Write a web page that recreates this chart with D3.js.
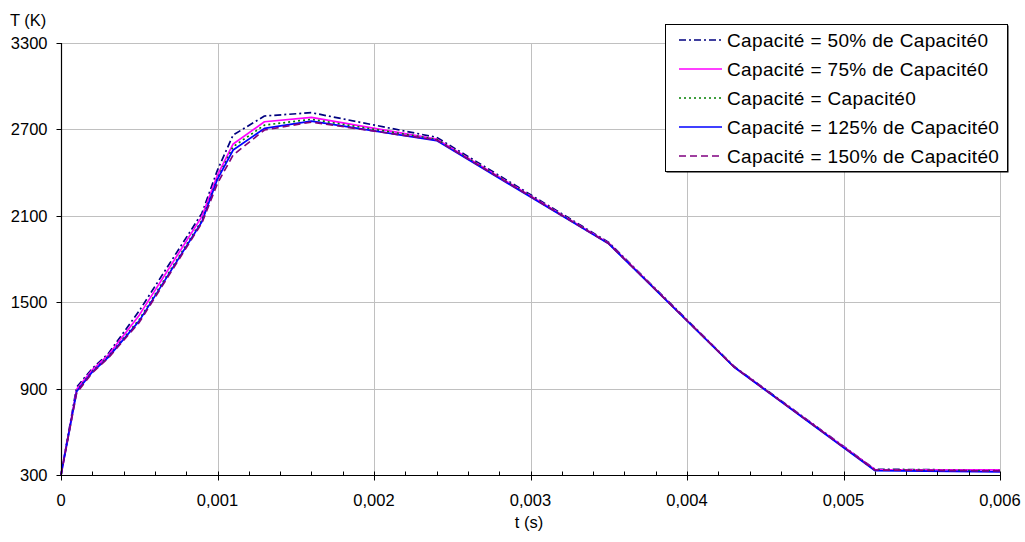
<!DOCTYPE html>
<html>
<head>
<meta charset="utf-8">
<script src="https://cdn.jsdelivr.net/npm/d3@7"></script>
<style>
  html, body { margin: 0; padding: 0; background: #fff; }
  svg { display: block; font-family: "Liberation Sans", Arial, sans-serif; }
</style>
</head>
<body>
<svg id="chart" width="1025" height="542"></svg>
<script>
// ---- data ----
const times = [0, 0.0001, 0.0002, 0.0003, 0.0005, 0.0009, 0.001, 0.0011, 0.0013, 0.0016, 0.0024, 0.0035, 0.0043, 0.0052, 0.006];
const cap50  = [300, 910, 1040, 1140, 1440, 2117, 2418, 2661, 2793, 2816, 2645, 1915, 1055, 340, 333];
const cap75  = [300, 895, 1030, 1130, 1410, 2094, 2383, 2599, 2753, 2784, 2633, 1910, 1052, 338, 335];
const cap100 = [300, 885, 1020, 1120, 1380, 2068, 2360, 2580, 2730, 2770, 2631, 1908, 1052, 335, 330];
const cap125 = [300, 880, 1015, 1115, 1370, 2059, 2355, 2557, 2707, 2758, 2622, 1905, 1050, 330, 322];
const cap150 = [300, 870, 1010, 1110, 1360, 2050, 2326, 2522, 2696, 2751, 2626, 1907, 1051, 335, 328];
const seriesNames = [
  "Capacité = 50% de Capacité0",
  "Capacité = 75% de Capacité0",
  "Capacité = Capacité0",
  "Capacité = 125% de Capacité0",
  "Capacité = 150% de Capacité0"
];
const xTicks = [0, 0.001, 0.002, 0.003, 0.004, 0.005, 0.006];
const xTickLabels = ["0", "0,001", "0,002", "0,003", "0,004", "0,005", "0,006"];
const yTicks = [300, 900, 1500, 2100, 2700, 3300];
const yTickLabels = ["300", "900", "1500", "2100", "2700", "3300"];
const xTitle = "t (s)";
const yTitle = "T (K)";

// ---- styles ----
const seriesValues = [cap50, cap75, cap100, cap125, cap150];
const colors = ["#000080", "#FF00FF", "#008000", "#0000FF", "#800080"];
const dashes = ["7,3,2,3", null, "2,3", null, "7,4"];

const svg = d3.select("#chart");
const x = d3.scaleLinear().domain([0, 0.006]).range([61, 1000]);
const y = d3.scaleLinear().domain([300, 3300]).range([475, 43]);

// gridlines
const grid = svg.append("g");
grid.selectAll("line.h").data(yTicks.filter(d => d !== 300)).enter().append("line")
  .attr("x1", x(0)).attr("x2", x(0.006))
  .attr("y1", d => Math.round(y(d)) + 0.5).attr("y2", d => Math.round(y(d)) + 0.5)
  .attr("stroke", "#c0c0c0").attr("stroke-width", 1);
grid.selectAll("line.v").data(xTicks.filter(d => d !== 0)).enter().append("line")
  .attr("x1", d => Math.round(x(d)) + 0.5).attr("x2", d => Math.round(x(d)) + 0.5)
  .attr("y1", y(3300)).attr("y2", y(300))
  .attr("stroke", "#c0c0c0").attr("stroke-width", 1);

// series lines
const line = d3.line().x((d, i) => x(times[i])).y(d => y(d));
seriesValues.forEach((vals, k) => {
  svg.append("path")
    .datum(vals)
    .attr("d", line)
    .attr("fill", "none")
    .attr("stroke", colors[k])
    .attr("stroke-width", 1.7)
    .attr("stroke-linejoin", "round")
    .attr("stroke-dasharray", dashes[k]);
});

// axes
const xAxisG = svg.append("g").attr("transform", `translate(0,${Math.round(y(300)) + 0.5})`);
xAxisG.append("line").attr("x1", x(0)).attr("x2", x(0.006)).attr("stroke", "#000").attr("stroke-width", 1.2);
const minorX = d3.range(0, 31).map(i => i * 0.0002).filter(v => Math.abs(v / 0.001 - Math.round(v / 0.001)) > 1e-6);
xAxisG.selectAll("line.minor").data(minorX).enter().append("line")
  .attr("x1", d => Math.round(x(d)) + 0.5).attr("x2", d => Math.round(x(d)) + 0.5)
  .attr("y1", -4).attr("y2", 0).attr("stroke", "#000");
xAxisG.selectAll("line.major").data(xTicks).enter().append("line")
  .attr("x1", d => Math.round(x(d)) + 0.5).attr("x2", d => Math.round(x(d)) + 0.5)
  .attr("y1", -4).attr("y2", 5).attr("stroke", "#000");
xAxisG.selectAll("text").data(xTicks).enter().append("text")
  .attr("x", d => x(d)).attr("y", 30)
  .attr("text-anchor", "middle").attr("font-size", 16.5).attr("fill", "#000")
  .text((d, i) => xTickLabels[i]);

const yAxisG = svg.append("g").attr("transform", `translate(${Math.round(x(0)) + 0.5},0)`);
yAxisG.append("line").attr("y1", y(3300)).attr("y2", y(300)).attr("stroke", "#000").attr("stroke-width", 1.2);
yAxisG.selectAll("line.major").data(yTicks).enter().append("line")
  .attr("y1", d => Math.round(y(d)) + 0.5).attr("y2", d => Math.round(y(d)) + 0.5)
  .attr("x1", -5).attr("x2", 0).attr("stroke", "#000");
yAxisG.selectAll("text").data(yTicks).enter().append("text")
  .attr("x", -14).attr("y", d => y(d) + 6)
  .attr("text-anchor", "end").attr("font-size", 16.5).attr("fill", "#000")
  .text((d, i) => yTickLabels[i]);

// axis titles
svg.append("text").attr("x", 10).attr("y", 26).attr("font-size", 16.5).attr("fill", "#000").text(yTitle);
svg.append("text").attr("x", 529).attr("y", 528).attr("text-anchor", "middle").attr("font-size", 16.5).attr("fill", "#000").text(xTitle);

// legend
const lg = svg.append("g");
lg.append("rect").attr("x", 666.5).attr("y", 25.5).attr("width", 342).attr("height", 147).attr("fill", "#000");
lg.append("rect").attr("x", 665.5).attr("y", 24.5).attr("width", 342).attr("height", 147)
  .attr("fill", "#fff").attr("stroke", "#000").attr("stroke-width", 1);
const rowY = [40, 69, 98, 127, 156];
seriesNames.forEach((name, k) => {
  lg.append("line").attr("x1", 679).attr("x2", 722).attr("y1", rowY[k]).attr("y2", rowY[k])
    .attr("stroke", colors[k]).attr("stroke-width", 1.6).attr("stroke-dasharray", dashes[k]);
  lg.append("text").attr("x", 727).attr("y", rowY[k] + 7).attr("font-size", 19)
    .attr("letter-spacing", 0.35).attr("fill", "#000").text(name);
});
</script>
</body>
</html>
